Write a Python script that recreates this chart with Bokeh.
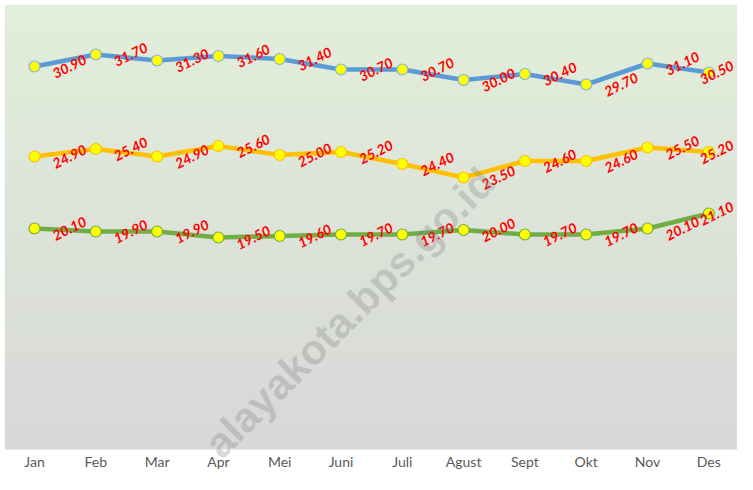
import numpy as np
from bokeh.plotting import figure
from bokeh.models import ColumnDataSource, Label
from bokeh.core.properties import value
from bokeh.embed import file_html
from bokeh.resources import INLINE

months = ["Jan", "Feb", "Mar", "Apr", "Mei", "Juni", "Juli", "Agust", "Sept", "Okt", "Nov", "Des"]
suhu_maks = [30.9, 31.7, 31.3, 31.6, 31.4, 30.7, 30.7, 30.0, 30.4, 29.7, 31.1, 30.5]
suhu_rata = [24.9, 25.4, 24.9, 25.6, 25.0, 25.2, 24.4, 23.5, 24.6, 24.6, 25.5, 25.2]
suhu_min = [20.1, 19.9, 19.9, 19.5, 19.6, 19.7, 19.7, 20.0, 19.7, 19.7, 20.1, 21.1]
watermark = "alayakota.bps.go.id"

W, H = 737, 474
ML, MT = 4, 4
step = 61.3
px = 15.0  # pixels per degree
x0 = -(34 - ML) / step
x1 = x0 + (W - ML) / step


def yv(canvas_y):
    return 30.9 - (canvas_y - 66) / px


y_top = yv(MT)
y_bot = yv(H)
grad_bot = yv(449)
label_y = yv(461)

p = figure(width=W, height=H, output_backend="svg", toolbar_location=None,
           x_range=(x0, x1), y_range=(y_bot, y_top),
           x_axis_location=None, y_axis_location=None,
           min_border_left=ML, min_border_right=0, min_border_top=MT, min_border_bottom=0)
p.xgrid.visible = False
p.ygrid.visible = False
p.outline_line_color = None
p.border_fill_color = "white"
p.background_fill_color = "white"

# vertical gradient background of the plot area
n = 256
top = np.array([226, 239, 218], dtype=float)
bot = np.array([216, 216, 216], dtype=float)
t = np.linspace(0, 1, n)[:, None]
cols = (bot * (1 - t) + top * t).astype(np.uint32)
img = np.zeros((n, 1), dtype=np.uint32)
view = img.view(dtype=np.uint8).reshape((n, 1, 4))
view[:, 0, 0] = cols[:, 0]
view[:, 0, 1] = cols[:, 1]
view[:, 0, 2] = cols[:, 2]
view[:, 0, 3] = 255
p.image_rgba(image=[img], x=x0, y=grad_bot, dw=x1 - x0, dh=y_top - grad_bot)

xs = list(range(len(months)))
offs = [35] * (len(months) - 1) + [8]

series = [
    (suhu_maks, "#5B9BD5", "#7FB0DE"),
    (suhu_rata, "#FFC000", "#FFC000"),
    (suhu_min, "#70AD47", "#70AD47"),
]
for vals, col, mcol in series:
    src = ColumnDataSource(dict(x=xs, y=vals))
    p.line("x", "y", source=src, line_color=col, line_width=4.5)
    p.scatter("x", "y", source=src, size=11, fill_color="#FFFF00", line_color=mcol, line_width=1.2)
for vals, col, mcol in series:
    src = ColumnDataSource(dict(x=xs, y=vals, lbl=[f"{v:.2f}" for v in vals], xo=offs))
    p.text("x", "y", text="lbl", source=src, x_offset="xo", y_offset=0, angle=0.46,
           text_align="center", text_baseline="middle", text_color="#FF0000",
           text_font=value("Lato"), text_font_style="bold italic", text_font_size="14px")

# month (category) labels under the plot area
msrc = ColumnDataSource(dict(x=xs, y=[label_y] * len(xs), m=months))
p.text("x", "y", text="m", source=msrc, text_align="center", text_baseline="middle",
       text_color="#595959", text_font=value("Lato"), text_font_size="14px")

wm = Label(x=345, y=H - 312, x_units="screen", y_units="screen", text=watermark,
           angle=0.785, text_align="center", text_baseline="middle",
           text_font="Liberation Sans", text_font_style="bold", text_font_size="42px",
           text_color="#7a7a7a", text_alpha=0.28)
p.add_layout(wm)

open("out.html", "w").write(file_html(p, INLINE))
